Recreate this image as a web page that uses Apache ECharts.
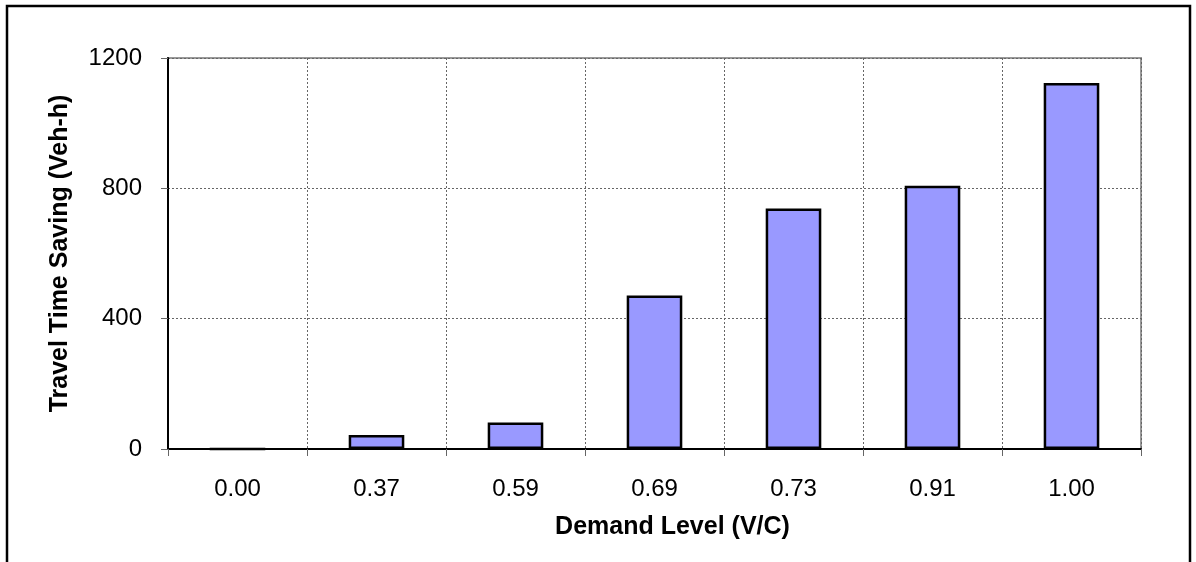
<!DOCTYPE html>
<html>
<head>
<meta charset="utf-8">
<script src="https://cdn.jsdelivr.net/npm/echarts@6/dist/echarts.min.js"></script>
<style>
  html, body { margin: 0; padding: 0; background: #fff; }
  #chart { width: 1196px; height: 562px; }
</style>
</head>
<body>
<div id="chart"></div>
<script>
const demandLevels = ['0.00', '0.37', '0.59', '0.69', '0.73', '0.91', '1.00']
const timeSaving = [0, 43, 81, 471, 738, 808, 1123]
const yTicks = [0, 400, 800, 1200]

const chart = echarts.init(document.getElementById('chart'))

const font = 'Liberation Sans, Arial, sans-serif'

const option = {
  animation: false,
  graphic: [
    {
      type: 'rect',
      shape: { x: 7, y: 6, width: 1183, height: 600 },
      style: { fill: 'none', stroke: '#000', lineWidth: 2.5 },
      silent: true
    }
  ],
  grid: {
    left: 168,
    right: 55,
    top: 58,
    bottom: 113,
    show: true,
    borderColor: '#999',
    borderWidth: 2
  },
  xAxis: {
    type: 'category',
    data: demandLevels,
    name: 'Demand Level (V/C)',
    nameLocation: 'middle',
    nameGap: 66,
    nameTextStyle: { fontFamily: font, fontSize: 25, fontWeight: 'bold', color: '#000', padding: [0, 0, 0, 36] },
    axisLine: { lineStyle: { color: '#000', width: 2 } },
    axisTick: { show: true, length: 7, lineStyle: { color: '#666' } },
    axisLabel: { fontFamily: font, fontSize: 24, color: '#000', margin: 28 },
    splitLine: { show: true, lineStyle: { color: '#666', type: [2, 2], width: 1 } }
  },
  yAxis: {
    type: 'value',
    min: yTicks[0],
    max: yTicks[yTicks.length - 1],
    interval: 400,
    name: 'Travel Time Saving (Veh-h)',
    nameLocation: 'middle',
    nameGap: 95,
    nameRotate: 90,
    nameTextStyle: { fontFamily: font, fontSize: 25, fontWeight: 'bold', color: '#000' },
    axisLine: { show: true, lineStyle: { color: '#000', width: 2 } },
    axisTick: { show: true, length: 7, lineStyle: { color: '#666' } },
    axisLabel: { fontFamily: font, fontSize: 24, color: '#000', margin: 26, formatter: v => String(v) },
    splitLine: { show: true, lineStyle: { color: '#666', type: [2, 2], width: 1 } }
  },
  series: [
    {
      name: 'Travel Time Saving',
      type: 'bar',
      data: timeSaving,
      barWidth: '40%',
      itemStyle: {
        color: '#9999ff',
        borderColor: '#000',
        borderWidth: 2.5
      }
    }
  ]
}

chart.setOption(option)
</script>
</body>
</html>
